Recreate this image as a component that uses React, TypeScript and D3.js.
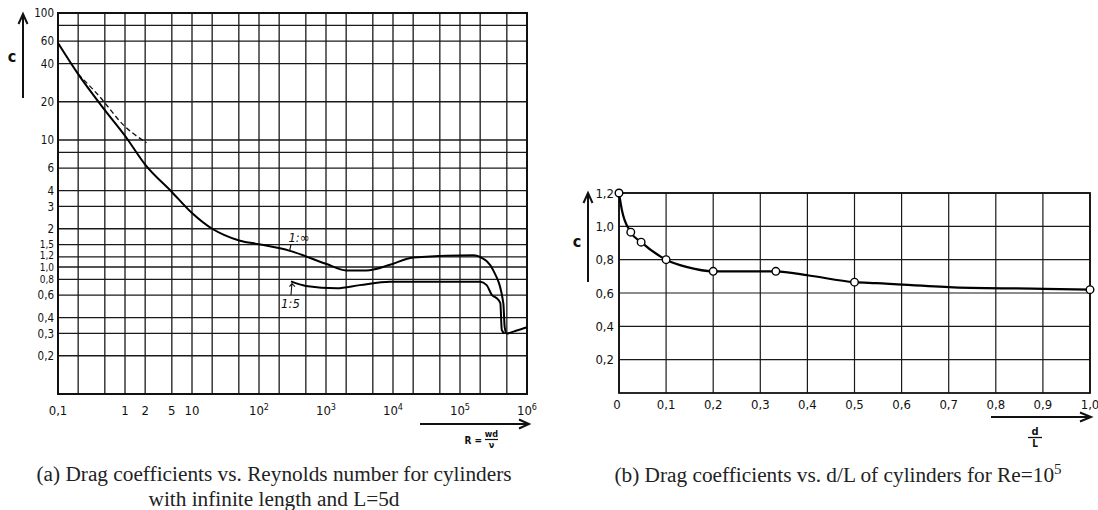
import React from "react";
import * as d3 from "d3";

const W = 1098;
const H = 510;

// ---- chart (a): drag coefficient c vs Reynolds number (log-log) ----
const reGrid = [0.2, 0.5, 1, 2, 5, 10, 20, 50, 100, 200, 500, 1e3, 2e3, 5e3, 1e4, 2e4, 5e4, 1e5, 2e5, 5e5];
const cGrid = [80, 60, 40, 20, 10, 8, 6, 4, 3, 2, 1.5, 1.2, 1.0, 0.8, 0.6, 0.4, 0.3, 0.2];
const cTicks = [100, 60, 40, 20, 10, 6, 4, 3, 2, 1.5, 1.2, 1.0, 0.8, 0.6, 0.4, 0.3, 0.2];
const cTickLabels = ["100", "60", "40", "20", "10", "6", "4", "3", "2", "1,5", "1,2", "1,0", "0,8", "0,6", "0,4", "0,3", "0,2"];
const cCrowded = [1.5, 1.2, 1.0, 0.8]; // lettered smaller in the scan
const reTicks = [0.1, 1, 2, 5, 10];
const reTickLabels = ["0,1", "1", "2", "5", "10"];
const rePowers = [2, 3, 4, 5, 6];

// curve 1:∞ (infinite length)
const infRe = [0.1, 0.2, 0.5, 1, 2, 5, 10, 20, 30, 52, 100, 290, 1000, 2000, 4000, 9000, 2e4, 1.6e5, 2e5, 3.14e5, 4.43e5, 4.65e5, 4.98e5, 7e5, 1e6];
const infC = [58, 33, 17.2, 10.8, 6.4, 3.9, 2.66, 2.0, 1.79, 1.61, 1.51, 1.34, 1.06, 0.94, 0.94, 1.04, 1.19, 1.24, 1.2, 0.94, 0.52, 0.335, 0.3, 0.316, 0.335];
// curve 1:5
const fiveRe = [300, 500, 1450, 3200, 9000, 2e5, 2.5e5, 3e5, 3.5e5, 4e5, 4.2e5, 4.6e5];
const fiveC = [0.77, 0.71, 0.68, 0.72, 0.765, 0.765, 0.72, 0.6, 0.57, 0.52, 0.32, 0.3];
// dashed curve (low Re)
const dashRe = [0.2, 0.42, 0.95, 2.1];
const dashC = [33, 21.9, 13.1, 9.5];

// ---- chart (b): drag coefficient c vs d/L ----
const dlTicks = [0, 0.1, 0.2, 0.3, 0.4, 0.5, 0.6, 0.7, 0.8, 0.9, 1.0];
const cbTicks = [0.2, 0.4, 0.6, 0.8, 1.0, 1.2];
const dlMarks = [0, 0.025, 0.047, 0.1, 0.2, 0.333, 0.5, 1.0];
const cMarks = [1.2, 0.965, 0.905, 0.8, 0.73, 0.73, 0.665, 0.62];
const dlCurve = [0, 0.006, 0.025, 0.047, 0.1, 0.145, 0.2, 0.333, 0.403, 0.5, 0.546, 0.71, 0.903, 1.0];
const cCurve = [1.2, 1.1, 0.965, 0.905, 0.8, 0.755, 0.73, 0.73, 0.705, 0.665, 0.659, 0.634, 0.625, 0.62];

const comma = (v: number) => d3.format(".1f")(v).replace(".", ",");

const handFont = "'DejaVu Sans Condensed', 'Liberation Sans Narrow', 'DejaVu Sans', sans-serif";
const capFont = "'Liberation Serif', 'DejaVu Serif', serif";
const ink = "#111";

function ChartA() {
  const x = d3.scaleLog().domain([0.1, 1e6]).range([58, 527]);
  const y = d3.scaleLog().domain([0.1, 100]).range([394, 13]);
  const line = d3.line<[number, number]>()
    .x(d => x(d[0]))
    .y(d => y(d[1]))
    .curve(d3.curveMonotoneX);
  const inf = line(infRe.map((r, i) => [r, infC[i]]));
  const five = line(fiveRe.map((r, i) => [r, fiveC[i]]));
  const dash = line(dashRe.map((r, i) => [r, dashC[i]]));

  // small nudges so the squeezed labels don't run into each other
  const nudge = (c: number) => (c === 1.2 ? -1.2 : c === 1.0 ? 0.8 : c === 0.8 ? 0.5 : 0);

  return (
    <g>
      {/* grid */}
      {reGrid.map(r => (
        <line key={"vx" + r} x1={x(r)} x2={x(r)} y1={y(100)} y2={y(0.1)} stroke="#1a1a1a" strokeWidth={1.3} />
      ))}
      {cGrid.map(c => (
        <line key={"hy" + c} x1={x(0.1)} x2={x(1e6)} y1={y(c)} y2={y(c)} stroke="#1a1a1a" strokeWidth={1.3} />
      ))}
      <rect x={x(0.1)} y={y(100)} width={x(1e6) - x(0.1)} height={y(0.1) - y(100)} fill="none" stroke={ink} strokeWidth={2} />

      {/* y tick labels */}
      {cTicks.map((c, i) => (
        <text key={"yl" + c} x={54} y={y(c) + nudge(c)} dy="0.36em" textAnchor="end"
          fontSize={cCrowded.includes(c) ? 10 : 11.5} fontFamily={handFont} fill={ink}>
          {cTickLabels[i]}
        </text>
      ))}
      {/* x tick labels */}
      {reTicks.map((r, i) => (
        <text key={"xl" + r} x={x(r)} y={415} textAnchor="middle" fontSize={13} fontFamily={handFont} fill={ink}>
          {reTickLabels[i]}
        </text>
      ))}
      {rePowers.map(p => (
        <text key={"xp" + p} x={x(Math.pow(10, p))} y={415} textAnchor="middle" fontSize={13} fontFamily={handFont} fill={ink}>
          10<tspan dy={-5} fontSize={9}>{p}</tspan>
        </text>
      ))}

      {/* curves */}
      <path d={dash!} fill="none" stroke={ink} strokeWidth={1.3} strokeDasharray="5,3" />
      <path d={inf!} fill="none" stroke="#000" strokeWidth={2} />
      <path d={five!} fill="none" stroke="#000" strokeWidth={2} />

      {/* curve annotations */}
      <text x={x(395)} y={y(1.57)} textAnchor="middle" fontSize={13} fontStyle="italic" fontFamily={handFont} fill={ink}>1:∞</text>
      <line x1={x(300)} y1={y(1.5)} x2={x(285)} y2={y(1.33)} stroke={ink} strokeWidth={1.2} />
      <text x={x(295)} y={y(0.475)} textAnchor="middle" fontSize={13} fontStyle="italic" fontFamily={handFont} fill={ink}>1:5</text>
      <path d={`M${x(300)},${y(0.6)} L${x(310)},${y(0.74)} M${x(285)},${y(0.7)} L${x(310)},${y(0.74)} L${x(345)},${y(0.7)}`} fill="none" stroke={ink} strokeWidth={1.1} />

      {/* y axis name with arrow */}
      <text x={12} y={57} dy="0.3em" textAnchor="middle" fontSize={16} fontWeight="bold" fontFamily={handFont} fill={ink}>c</text>
      <line x1={23} y1={98} x2={23} y2={15} stroke={ink} strokeWidth={2} />
      <path d="M18.5,24 L23,14 L27.5,24" fill="none" stroke={ink} strokeWidth={2} />

      {/* x axis name with arrow */}
      <line x1={420} y1={424} x2={528} y2={424} stroke={ink} strokeWidth={2} />
      <path d="M519,419.5 L529,424 L519,428.5" fill="none" stroke={ink} strokeWidth={2} />
      <text x={482} y={444} textAnchor="end" fontSize={10} fontWeight="bold" fontFamily={handFont} fill={ink}>R =</text>
      <text x={491.5} y={437} textAnchor="middle" fontSize={9} fontWeight="bold" fontFamily={handFont} fill={ink}>wd</text>
      <line x1={485} x2={498} y1={439.5} y2={439.5} stroke={ink} strokeWidth={1.2} />
      <text x={491.5} y={448} textAnchor="middle" fontSize={9} fontWeight="bold" fontFamily={handFont} fill={ink}>ν</text>

      {/* caption */}
      <text x={274} y={481} textAnchor="middle" fontSize={21.3} fontFamily={capFont} fill="#222">
        (a) Drag coefficients vs. Reynolds number for cylinders
      </text>
      <text x={274} y={506} textAnchor="middle" fontSize={21.3} fontFamily={capFont} fill="#222">
        with infinite length and L=5d
      </text>
    </g>
  );
}

function ChartB() {
  const x = d3.scaleLinear().domain([0, 1]).range([619, 1090]);
  const y = d3.scaleLinear().domain([0, 1.2]).range([393, 193]);
  const line = d3.line<[number, number]>()
    .x(d => x(d[0]))
    .y(d => y(d[1]))
    .curve(d3.curveMonotoneX);
  const curve = line(dlCurve.map((v, i) => [v, cCurve[i]]));

  return (
    <g>
      {dlTicks.map(t => (
        <line key={"bv" + t} x1={x(t)} x2={x(t)} y1={y(0)} y2={y(1.2)} stroke="#1a1a1a" strokeWidth={1.2} />
      ))}
      {cbTicks.map(t => (
        <line key={"bh" + t} x1={x(0)} x2={x(1)} y1={y(t)} y2={y(t)} stroke="#1a1a1a" strokeWidth={1.2} />
      ))}
      <rect x={x(0)} y={y(1.2)} width={x(1) - x(0)} height={y(0) - y(1.2)} fill="none" stroke={ink} strokeWidth={1.8} />

      {cbTicks.map(t => (
        <text key={"byl" + t} x={614} y={y(t)} dy="0.36em" textAnchor="end" fontSize={13} fontFamily={handFont} fill={ink}>
          {comma(t)}
        </text>
      ))}
      {dlTicks.map(t => (
        <text key={"bxl" + t} x={t === 0 ? x(t) - 2 : x(t)} y={409} textAnchor="middle" fontSize={13} fontFamily={handFont} fill={ink}>
          {t === 0 ? "0" : comma(t)}
        </text>
      ))}

      <path d={curve!} fill="none" stroke="#000" strokeWidth={2.2} />
      {dlMarks.map((v, i) => (
        <circle key={"m" + i} cx={x(v)} cy={y(cMarks[i])} r={3.8} fill="#fff" stroke="#000" strokeWidth={1.4} />
      ))}

      {/* y axis name with arrow */}
      <text x={577} y={242} dy="0.3em" textAnchor="middle" fontSize={16} fontWeight="bold" fontFamily={handFont} fill={ink}>c</text>
      <line x1={588} y1={282} x2={588} y2={194} stroke={ink} strokeWidth={2} />
      <path d="M583.5,203 L588,193 L592.5,203" fill="none" stroke={ink} strokeWidth={2} />

      {/* x axis name with arrow */}
      <line x1={991} y1={417} x2={1090} y2={417} stroke={ink} strokeWidth={2} />
      <path d="M1080,412.5 L1091,417 L1080,421.5" fill="none" stroke={ink} strokeWidth={2} />
      <text x={1035} y={435} textAnchor="middle" fontSize={11} fontWeight="bold" fontFamily={handFont} fill={ink}>d</text>
      <line x1={1028} x2={1042} y1={437.5} y2={437.5} stroke={ink} strokeWidth={1.3} />
      <text x={1035} y={447} textAnchor="middle" fontSize={10} fontWeight="bold" fontFamily={handFont} fill={ink}>L</text>

      {/* caption */}
      <text x={838} y={482} textAnchor="middle" fontSize={21.3} fontFamily={capFont} fill="#222">
        (b) Drag coefficients vs. d/L of cylinders for Re=10<tspan dy={-8} fontSize={15}>5</tspan>
      </text>
    </g>
  );
}

export default function App() {
  return (
    <svg
      width={W}
      height={H}
      viewBox={`0 0 ${W} ${H}`}
      style={{ position: "absolute", left: 0, top: 0, background: "#fff" }}
    >
      <rect width={W} height={H} fill="#fff" />
      <ChartA />
      <ChartB />
    </svg>
  );
}
